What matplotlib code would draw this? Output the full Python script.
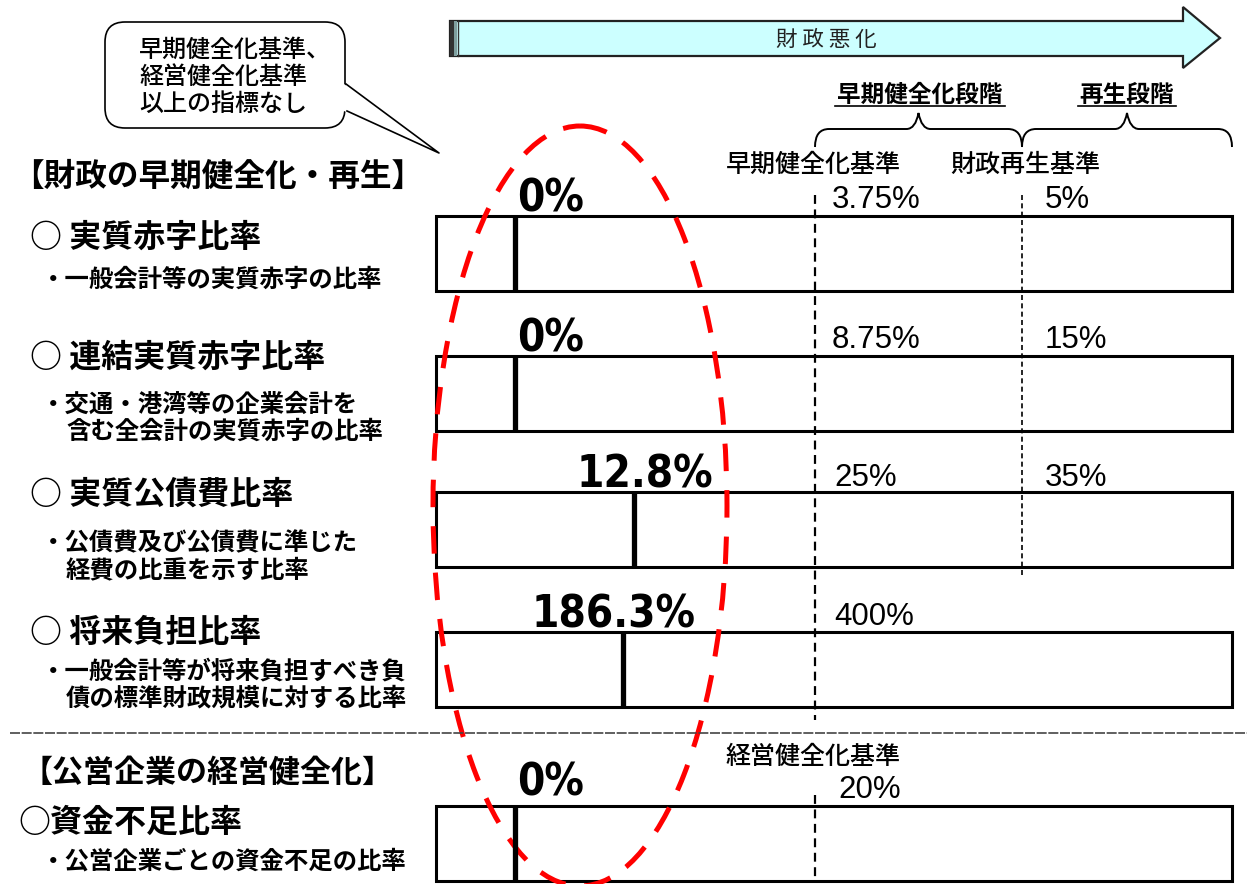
import numpy as np
import matplotlib.pyplot as plt
from matplotlib.patches import Polygon, Rectangle, Ellipse, FancyBboxPatch, PathPatch
from matplotlib.path import Path

plt.rcParams['font.family'] = ['Noto Sans CJK JP', 'DejaVu Sans']

# indicators of the fiscal soundness law
indicators = ['実質赤字比率', '連結実質赤字比率', '実質公債費比率', '将来負担比率']
descriptions = [
    ['一般会計等の実質赤字の比率'],
    ['交通・港湾等の企業会計を', '含む全会計の実質赤字の比率'],
    ['公債費及び公債費に準じた', '経費の比重を示す比率'],
    ['一般会計等が将来負担すべき負', '債の標準財政規模に対する比率'],
]
values = [0, 0, 12.8, 186.3]
early_std = [3.75, 8.75, 25, 400]
rebuild_std = [5, 15, 35, None]

# public enterprise
pe_indicator = '資金不足比率'
pe_description = '公営企業ごとの資金不足の比率'
pe_value = 0
pe_std = 20

bubble_lines = ['早期健全化基準、', '経営健全化基準', '以上の指標なし']

W, H = 1247, 884
fig = plt.figure(figsize=(W / 100, H / 100), dpi=100)
ax = fig.add_axes([0, 0, 1, 1])
ax.set_xlim(0, W)
ax.set_ylim(H, 0)
ax.axis('off')

num_font = ['DejaVu Sans']
arial = ['Liberation Sans', 'DejaVu Sans']

box_l, box_r = 436, 1232
zero_x = 515
early_x = 815
rebuild_x = 1022
span = 232  # schematic: px per (value / early standard)


def val_x(v, std):
    return zero_x + span * v / std


def fmt(v):
    return f'{v:g}%'


# big arrow "財政悪化"
arrow = Polygon([(450, 21), (1183, 21), (1183, 7), (1220, 38), (1183, 68),
                 (1183, 56), (450, 56)], closed=True, fc='#ccffff', ec='#222222', lw=1.6)
ax.add_patch(arrow)
ax.add_patch(Rectangle((450, 21), 4, 35, fc='#333333', ec='none'))
ax.add_patch(Rectangle((454, 21), 3, 35, fc='#7f9f9f', ec='none'))
ax.plot([458, 458], [21, 56], color='#333333', lw=1)
ax.text(826, 40, '財 政 悪 化', fontsize=15.5, ha='center', va='center', color='#222222')

# stage labels with underline
ax.text(920, 95, '早期健全化段階', fontsize=17, fontweight='bold', ha='center', va='center')
ax.plot([835, 1005], [106, 106], color='black', lw=1.2)
ax.text(1127, 95, '再生段階', fontsize=17, fontweight='bold', ha='center', va='center')
ax.plot([1078, 1176], [106, 106], color='black', lw=1.2)


def brace(x0, x1, y_line=129, y_end=147, y_peak=113):
    xm = (x0 + x1) / 2
    verts = [(x0, y_end), (x0, y_line), (x0 + 14, y_line),
             (xm - 12, y_line),
             (xm - 3, y_line), (xm, y_peak),
             (xm + 3, y_line), (xm + 12, y_line),
             (x1 - 14, y_line),
             (x1, y_line), (x1, y_end)]
    codes = [Path.MOVETO, Path.CURVE3, Path.CURVE3, Path.LINETO,
             Path.CURVE3, Path.CURVE3, Path.CURVE3, Path.CURVE3,
             Path.LINETO, Path.CURVE3, Path.CURVE3]
    ax.add_patch(PathPatch(Path(verts, codes), fc='none', ec='black', lw=1.4))


brace(early_x, rebuild_x)
brace(rebuild_x, box_r)

ax.text(813, 165, '早期健全化基準', fontsize=18, fontweight='medium', ha='center', va='center')
ax.text(1025, 165, '財政再生基準', fontsize=18, fontweight='medium', ha='center', va='center')

# speech bubble
ax.add_patch(FancyBboxPatch((105, 22), 240, 106, boxstyle='round,pad=0,rounding_size=20',
                            fc='white', ec='black', lw=1.2))
ax.add_patch(Polygon([(344, 84), (439, 153), (344, 111)], closed=True, fc='white', ec='none'))
ax.plot([346, 439, 347], [84, 153, 111], color='black', lw=1.2)
for i, line in enumerate(bubble_lines):
    ax.text(139, 50 + 27 * i, line, fontsize=17.3, fontweight='medium', ha='left', va='center')

# section titles
ax.text(12, 177, '【財政の早期健全化・再生】', fontsize=22.8, fontweight='bold', ha='left', va='center')
ax.text(22, 773, '【公営企業の経営健全化】', fontsize=22.3, fontweight='bold', ha='left', va='center')

# dashed separator
ax.plot([10, W], [733, 733], color='#444444', lw=1.2, ls=(0, (6, 1)))

row_box_top = [216, 356, 492, 632]
row_head_y = [238, 358, 495, 633]
row_desc_y = [[280], [405, 432], [543, 570], [672, 698]]
row_label_y = [200, 340, 478, 617]
val_left = [517, 517, 577, 532]
box_h = 75

# threshold dashed lines
ax.plot([early_x, early_x], [195, 720], color='black', lw=1.6, ls=(0, (4, 2.5)))
ax.plot([rebuild_x, rebuild_x], [195, 578], color='black', lw=1.2, ls=(0, (3, 2)))
ax.plot([early_x, early_x], [795, 882], color='black', lw=1.6, ls=(0, (4, 2.5)))

for i in range(len(indicators)):
    top = row_box_top[i]
    ax.add_patch(Rectangle((box_l, top), box_r - box_l, box_h, fc='none', ec='black', lw=2.2))
    mx = val_x(values[i], early_std[i])
    ax.plot([mx, mx], [top, top + box_h], color='black', lw=3.8, solid_capstyle='butt')
    ax.text(val_left[i], top - 17, fmt(values[i]), fontsize=31.5, fontweight='bold',
            family=num_font, fontstretch='condensed', ha='left', va='center')
    ax.text(834 if early_std[i] >= 10 else 832, row_label_y[i], fmt(early_std[i]),
            fontsize=22.5, family=arial, ha='left', va='center')
    if rebuild_std[i] is not None:
        ax.text(1045, row_label_y[i], fmt(rebuild_std[i]), fontsize=22.5, family=arial,
                ha='left', va='center')
    ax.text(30, row_head_y[i], '○ ' + indicators[i], fontsize=23, fontweight='bold',
            ha='left', va='center')
    for j, line in enumerate(descriptions[i]):
        ax.text(41 if j == 0 else 66, row_desc_y[i][j], ('・' if j == 0 else '') + line,
                fontsize=17.6, fontweight='bold', ha='left', va='center')

# public enterprise row
top = 806
ax.add_patch(Rectangle((box_l, top), box_r - box_l, box_h, fc='none', ec='black', lw=2.2))
mx = val_x(pe_value, pe_std)
ax.plot([mx, mx], [top, top + box_h], color='black', lw=3.8, solid_capstyle='butt')
ax.text(517, 783, fmt(pe_value), fontsize=31.5, fontweight='bold', family=num_font,
        fontstretch='condensed', ha='left', va='center')
ax.text(813, 757, '経営健全化基準', fontsize=18, fontweight='medium', ha='center', va='center')
ax.text(838, 790, fmt(pe_std), fontsize=22.5, family=arial, ha='left', va='center')
ax.text(18, 823, '○' + pe_indicator, fontsize=23, fontweight='bold', ha='left', va='center')
ax.text(41, 862, '・' + pe_description, fontsize=17.6, fontweight='bold', ha='left', va='center')

# red dashed ellipse
ax.add_patch(Ellipse((580, 506), 294, 760, fc='none', ec='#ff0000', lw=3.6,
                     ls=(0, (5.5, 3.8))))

fig.savefig('out.png', dpi=100)
